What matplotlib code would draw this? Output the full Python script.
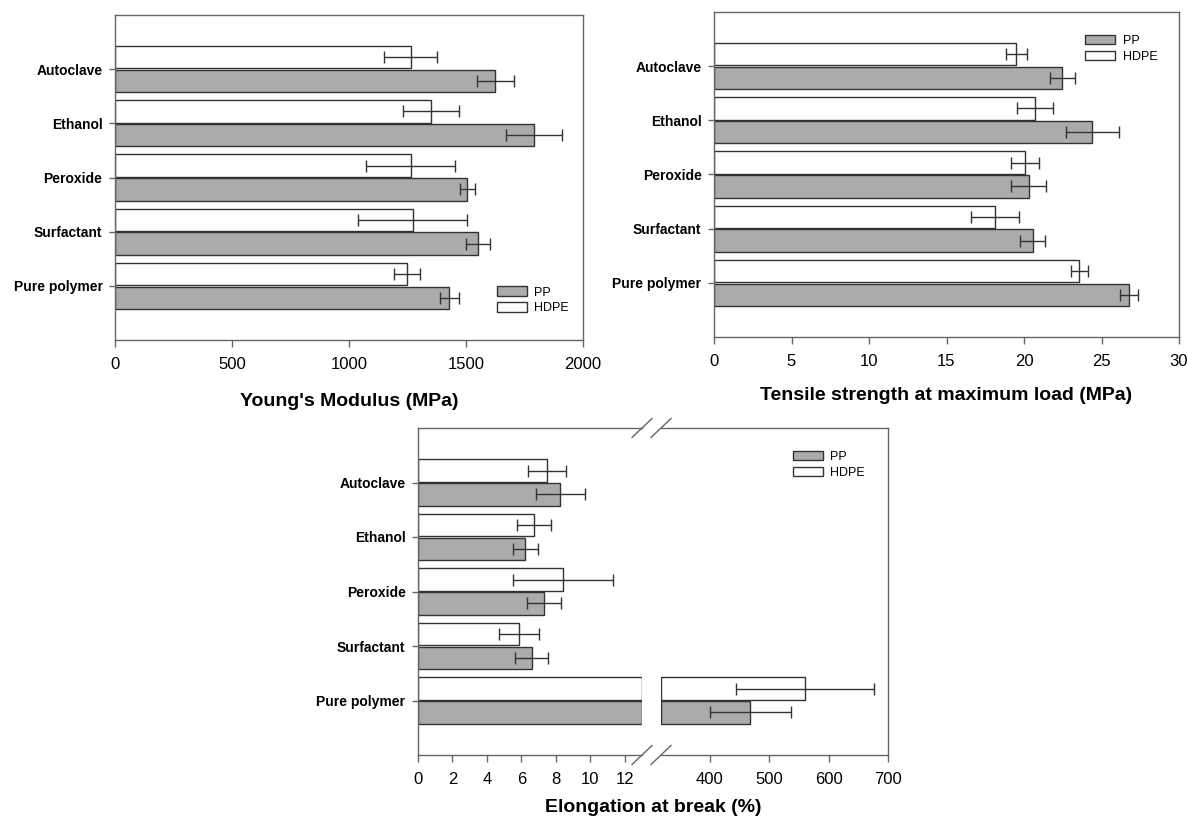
import matplotlib
matplotlib.use("Agg")
import matplotlib.pyplot as plt
import numpy as np

plt.rcParams['font.family'] = ['Liberation Sans', 'DejaVu Sans']

categories = ["Pure polymer", "Surfactant", "Peroxide", "Ethanol", "Autoclave"]

# Young's modulus (MPa)
ym_pp = [1429, 1551, 1506, 1791, 1626]
ym_pp_err = [39, 52, 33, 120, 78]
ym_hdpe = [1249, 1272, 1264, 1350, 1264]
ym_hdpe_err = [56, 233, 190, 120, 114]

# Tensile strength at maximum load (MPa)
ts_pp = [26.77, 20.57, 20.3, 24.4, 22.47]
ts_pp_err = [0.56, 0.8, 1.13, 1.7, 0.8]
ts_hdpe = [23.56, 18.1, 20.06, 20.7, 19.5]
ts_hdpe_err = [0.56, 1.55, 0.92, 1.15, 0.67]

# Elongation at break (%)
el_pp = [468.5, 6.59, 7.31, 6.23, 8.27]
el_pp_err = [68.5, 0.97, 1.0, 0.73, 1.4]
el_hdpe = [559.7, 5.86, 8.44, 6.72, 7.49]
el_hdpe_err = [116, 1.15, 2.9, 1.0, 1.12]

# broken x axis ranges for elongation
el_low = (0, 13)
el_high = (318, 700)

PP_COLOR = "#ababab"
HDPE_COLOR = "#ffffff"
EDGE = "#333333"
SPINE = "#666666"
H = 0.41
OFF = 0.22

W, Hpx = 1187, 823
fig = plt.figure(figsize=(W / 100, Hpx / 100), dpi=100)


def rect(l, r, t, b):
    return [l / W, 1 - b / Hpx, (r - l) / W, (b - t) / Hpx]


def style(ax):
    for s in ax.spines.values():
        s.set_color(SPINE)
        s.set_linewidth(1.0)
    ax.tick_params(axis='x', direction='out', length=5, width=1, color=SPINE,
                   labelsize=12, pad=7)
    ax.tick_params(axis='y', direction='out', length=4, width=1, color=SPINE,
                   pad=5)


def draw_bars(ax, pp, pp_err, hd, hd_err, lo=None, hi=None):
    y = np.arange(1, len(categories) + 1)
    pp = np.asarray(pp, float)
    hd = np.asarray(hd, float)
    for vals, err, yy, col, lab in ((pp, pp_err, y - OFF, PP_COLOR, "PP"),
                                    (hd, hd_err, y + OFF, HDPE_COLOR, "HDPE")):
        if lo is None:
            left = np.zeros_like(vals)
            width = vals
        else:
            vis = vals > lo
            left = np.where(vis, lo, 0.0)
            width = np.where(vis, np.minimum(vals, hi) - lo, 0.0)
            if lo == 0:
                left = np.zeros_like(vals)
                width = np.minimum(vals, hi)
        ax.barh(yy, width, left=left, height=H, color=col, edgecolor=EDGE,
                linewidth=1.0, label=lab, zorder=2)
        ax.errorbar(vals, yy, xerr=err, fmt='none', ecolor=EDGE, elinewidth=1.0,
                    capsize=4, capthick=1.0, zorder=3)
    ax.set_ylim(0, len(categories) + 1)
    ax.set_yticks(y)


def legend(ax, x, y):
    ax.legend(loc='upper left', bbox_to_anchor=(x, y), frameon=False,
              fontsize=9, handlelength=2.4, handleheight=0.8, labelspacing=0.3,
              handletextpad=0.6, borderpad=0, borderaxespad=0)


# --- Young's modulus ---
ax1 = fig.add_axes(rect(115, 583, 15, 340))
draw_bars(ax1, ym_pp, ym_pp_err, ym_hdpe, ym_hdpe_err)
ax1.set_xlim(0, 2000)
ax1.set_xticks([0, 500, 1000, 1500, 2000])
ax1.set_yticklabels(categories, fontsize=10, fontweight='bold')
style(ax1)
ax1.set_xlabel("Young's Modulus (MPa)", fontsize=14, fontweight='bold', labelpad=15)
legend(ax1, 0.816, 0.165)

# --- Tensile strength ---
ax2 = fig.add_axes(rect(714, 1179, 12, 337))
draw_bars(ax2, ts_pp, ts_pp_err, ts_hdpe, ts_hdpe_err)
ax2.set_xlim(0, 30)
ax2.set_xticks([0, 5, 10, 15, 20, 25, 30])
ax2.set_yticklabels(categories, fontsize=10, fontweight='bold')
style(ax2)
ax2.set_xlabel("Tensile strength at maximum load (MPa)", fontsize=14,
               fontweight='bold', labelpad=13)
legend(ax2, 0.798, 0.93)

# --- Elongation at break (broken axis) ---
ax3 = fig.add_axes(rect(418, 642, 428, 755))
ax4 = fig.add_axes(rect(661, 888, 428, 755))
draw_bars(ax3, el_pp, el_pp_err, el_hdpe, el_hdpe_err, *el_low)
draw_bars(ax4, el_pp, el_pp_err, el_hdpe, el_hdpe_err, *el_high)
for ax in (ax3, ax4):
    style(ax)
ax3.set_xlim(*el_low)
ax3.set_xticks([0, 2, 4, 6, 8, 10, 12])
ax3.set_yticklabels(categories, fontsize=10, fontweight='bold')
ax3.spines['right'].set_visible(False)
ax4.set_xlim(*el_high)
ax4.set_xticks([400, 500, 600, 700])
ax4.spines['left'].set_visible(False)
ax4.tick_params(axis='y', left=False, labelleft=False)
legend(ax4, 0.581, 0.93)

# break marks
for ax, wpx in ((ax3, 224), (ax4, 227)):
    xe = 1 if ax is ax3 else 0
    dx = 10 / wpx
    dy = 9.5 / 327
    for ye in (0, 1):
        ax.plot([xe - dx, xe + dx], [ye - dy, ye + dy], transform=ax.transAxes,
                color=SPINE, lw=1.0, clip_on=False, zorder=5)

fig.text(653 / W, 1 - 808 / Hpx, "Elongation at break (%)", fontsize=14,
         fontweight='bold', ha='center', va='center')

fig.savefig("out.png", dpi=100)
